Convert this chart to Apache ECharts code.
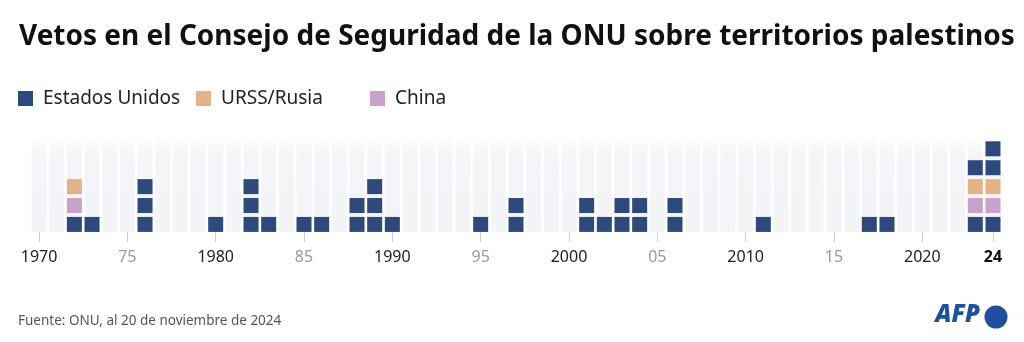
<!DOCTYPE html>
<html>
<head>
<meta charset="utf-8">
<script src="https://cdn.jsdelivr.net/npm/echarts@6/dist/echarts.min.js"></script>
<style>
html,body{margin:0;padding:0;background:#fff;}
#chart{width:1024px;height:342px;}
</style>
</head>
<body>
<div id="chart"></div>
<script>
// ---- Data ----
const firstYear = 1970;
const lastYear = 2024;
const vetoYears   = [1972,1973,1976,1980,1982,1983,1985,1986,1988,1989,1990,1995,1997,2001,2002,2003,2004,2006,2011,2017,2018,2023,2024];
const usVetos     = [1,   1,   3,   1,   3,   1,   1,   1,   2,   3,   1,   1,   2,   2,   1,   2,   2,   2,   1,   1,   1,   2,   3];
const russiaVetos = [1,   0,   0,   0,   0,   0,   0,   0,   0,   0,   0,   0,   0,   0,   0,   0,   0,   0,   0,   0,   0,   1,   1];
const chinaVetos  = [1,   0,   0,   0,   0,   0,   0,   0,   0,   0,   0,   0,   0,   0,   0,   0,   0,   0,   0,   0,   0,   1,   1];
const seriesNames = ['Estados Unidos', 'URSS/Rusia', 'China'];
const titleText = 'Vetos en el Consejo de Seguridad de la ONU sobre territorios palestinos';
const sourceText = 'Fuente: ONU, al 20 de noviembre de 2024';

// categories
const years = [];
for (let y = firstYear; y <= lastYear; y++) years.push(String(y));

// ---- Build stacked unit squares ----
const usPts = [], ruPts = [], cnPts = [];
const OFFSET = 0.4;
vetoYears.forEach((yr, i) => {
  const cat = String(yr);
  let level = 0;
  let usLeft = usVetos[i];
  if (chinaVetos[i] > 0 || russiaVetos[i] > 0) {
    if (usLeft > 0) { usPts.push([cat, level + OFFSET]); level++; usLeft--; }
    for (let k = 0; k < chinaVetos[i]; k++) { cnPts.push([cat, level + OFFSET]); level++; }
    for (let k = 0; k < russiaVetos[i]; k++) { ruPts.push([cat, level + OFFSET]); level++; }
  }
  for (let k = 0; k < usLeft; k++) { usPts.push([cat, level + OFFSET]); level++; }
});

const Y_MAX = 5.13;
const stripeData = years.map(() => Y_MAX);

const FONT = '"Noto Sans", sans-serif';
function fitSize(text, weight, target) {
  const c = document.createElement('canvas').getContext('2d');
  c.font = weight + ' 100px "Noto Sans"';
  const w = c.measureText(text).width;
  return Math.round(100 * target / w * 10) / 10;
}
const titleSize = fitSize(titleText, 'bold', 994);

const colors = {us: '#2e4a7c', ru: '#e3b286', cn: '#c9a2cb'};

const chart = echarts.init(document.getElementById('chart'), null, {renderer: 'canvas'});
const legendCommon = {
  top: 89, padding: 0, icon: 'rect', itemWidth: 15, itemHeight: 15,
  textStyle: {fontFamily: FONT, fontSize: 19, color: '#222', padding: [0,0,0,5]},
  selectedMode: false
};
chart.setOption({
  animation: false,
  backgroundColor: '#fff',
  title: {
    text: titleText, left: 14, top: 18,
    textStyle: {fontFamily: FONT, fontWeight: 'bold', fontSize: titleSize, color: '#111'}
  },
  legend: [
    Object.assign({left: 18, data: [seriesNames[0]]}, legendCommon),
    Object.assign({left: 196, data: [seriesNames[1]]}, legendCommon),
    Object.assign({left: 370, data: [seriesNames[2]]}, legendCommon)
  ],
  grid: {left: 30.2, right: 22.2, top: 135, bottom: 110, containLabel: false},
  xAxis: {
    type: 'category', data: years, boundaryGap: true,
    axisLine: {show: false},
    axisTick: {show: true, alignWithLabel: true, length: 10, lineStyle: {color: '#cfcfcf', width: 1},
      interval: (idx, val) => (+val % 5 === 0 || +val === lastYear)},
    axisLabel: {
      interval: (idx, val) => (+val % 5 === 0 || +val === lastYear),
      margin: 17,
      formatter: (val) => {
        const y = +val;
        if (y === lastYear) return '{b|' + String(y).slice(2) + '}';
        if (y % 10 === 0) return '{a|' + y + '}';
        return '{c|' + String(y).slice(2) + '}';
      },
      rich: {
        a: {fontFamily: FONT, fontSize: 16, color: '#222'},
        b: {fontFamily: FONT, fontSize: 16, color: '#111', fontWeight: 'bold'},
        c: {fontFamily: FONT, fontSize: 16, color: '#9a9a9a'}
      }
    },
    splitLine: {show: false}
  },
  yAxis: {type: 'value', min: 0, max: Y_MAX, show: false, splitLine: {show: false}},
  series: [
    {
      name: 'fondo', type: 'bar', data: stripeData, barWidth: 15, silent: true, z: 0,
      itemStyle: {color: new echarts.graphic.LinearGradient(0, 0, 0, 1, [
        {offset: 0, color: 'rgba(243,245,248,0)'},
        {offset: 0.22, color: '#f4f5f8'},
        {offset: 1, color: '#f2f4f7'}
      ])}
    },
    {name: seriesNames[0], type: 'scatter', data: usPts, symbol: 'rect', symbolSize: [15, 15], itemStyle: {color: colors.us, opacity: 1}, z: 3},
    {name: seriesNames[1], type: 'scatter', data: ruPts, symbol: 'rect', symbolSize: [15, 15], itemStyle: {color: colors.ru, opacity: 1}, z: 3},
    {name: seriesNames[2], type: 'scatter', data: cnPts, symbol: 'rect', symbolSize: [15, 15], itemStyle: {color: colors.cn, opacity: 1}, z: 3}
  ],
  graphic: [
    {type: 'text', left: 18, top: 314, style: {text: sourceText, font: '13.5px ' + FONT, fill: '#555'}},
    {type: 'text', right: 44, top: 303, style: {text: 'AFP', font: 'italic 900 24px ' + FONT, fill: '#1f4f9f'}},
    {type: 'circle', shape: {cx: 996, cy: 317, r: 11.5}, style: {fill: '#1f4f9f'}}
  ]
});
</script>
</body>
</html>
